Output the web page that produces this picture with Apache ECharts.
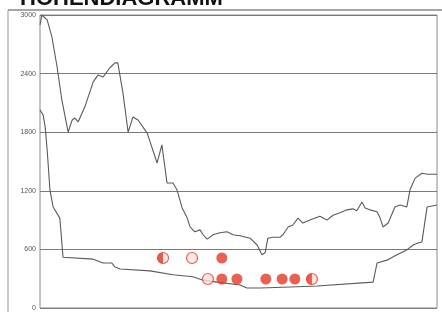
<!DOCTYPE html>
<html>
<head>
<meta charset="utf-8">
<script src="https://cdn.jsdelivr.net/npm/echarts@6/dist/echarts.min.js"></script>
<style>
  html, body { margin: 0; padding: 0; background: #fff; }
  #chart { width: 442px; height: 312px; }
</style>
</head>
<body>
<div id="chart"></div>
<script>
// Hoehenprofil: Strecke (0-100) und Hoehe (m)
var upperX = [0, 0.5, 1.8, 3.0, 4.3, 5.5, 7.1, 8.1, 8.8, 9.6, 11.3, 13.4, 14.6, 15.9, 17.6, 18.9, 19.6, 20.9, 22.2, 23.4, 24.7, 27.0, 29.5, 30.7, 32.0, 33.5, 34.5, 35.8, 37.0, 37.8, 39.0, 40.3, 41.1, 42.1, 43.6, 45.3, 47.1, 48.6, 50.4, 52.9, 54.7, 55.9, 56.7, 57.4, 58.7, 60.5, 61.2, 62.5, 63.7, 65.0, 66.2, 68.0, 70.5, 72.3, 73.8, 75.6, 77.3, 78.8, 79.8, 81.1, 81.9, 83.1, 84.9, 85.6, 86.4, 87.7, 89.4, 90.7, 92.4, 93.2, 94.5, 96.2, 97.7, 100];
var upperY = [2900, 3000, 2950, 2775, 2470, 2130, 1800, 1925, 1945, 1905, 2060, 2315, 2385, 2365, 2460, 2510, 2510, 2200, 1800, 1955, 1925, 1790, 1485, 1670, 1280, 1280, 1210, 1025, 930, 830, 780, 800, 750, 705, 750, 770, 780, 750, 740, 715, 645, 545, 565, 715, 725, 725, 750, 830, 850, 920, 870, 900, 940, 900, 950, 975, 1005, 1015, 995, 1085, 1025, 1005, 985, 930, 830, 870, 1035, 1055, 1035, 1210, 1330, 1380, 1370, 1370];

var lowerX = [0, 0.8, 1.3, 1.8, 2.5, 3.3, 5.0, 5.8, 6.3, 13.4, 15.9, 18.1, 18.9, 20.2, 27.7, 33.5, 38.5, 41.1, 44.6, 50.4, 52.1, 55.4, 63.0, 69.8, 83.9, 84.9, 87.4, 89.9, 92.4, 94.0, 95.2, 96.2, 97.5, 100];
var lowerY = [2030, 1975, 1855, 1620, 1210, 1035, 920, 520, 500, 500, 460, 460, 420, 400, 380, 340, 320, 285, 265, 235, 205, 205, 215, 225, 265, 460, 490, 545, 595, 645, 665, 675, 1035, 1055];

// Markierungen
var filledPts = [[45.8, 512], [45.8, 297], [49.6, 297], [56.9, 297], [61.0, 297], [64.2, 297]];
var hollowPts = [[38.3, 512], [42.3, 297], [31.0, 512], [68.5, 297]];
var halfPts = [[31.0, 512], [68.5, 297]];

var yTicks = [0, 600, 1200, 1800, 2400, 3000];

function pairs(xs, ys) {
    var out = [];
    for (var i = 0; i < xs.length; i++) out.push([xs[i], ys[i]]);
    return out;
}

var red = '#e23a28';
var dom = document.getElementById('chart');
var myChart = echarts.init(dom, null, { renderer: 'canvas' });

var option = {
    backgroundColor: '#fff',
    animation: false,
    grid: {
        left: 40, right: 5, top: 15, bottom: 4,
        show: true, borderColor: '#8a8a8a', borderWidth: 1
    },
    graphic: [
        {
            type: 'text', left: 20, top: -12, z: 10,
            style: {
                text: 'HÖHENDIAGRAMM',
                font: 'bold 22px "Liberation Sans", Arial, sans-serif',
                fill: '#111'
            }
        },
        {
            type: 'line', z: 10,
            shape: { x1: 8, y1: 10, x2: 442, y2: 10 },
            style: { stroke: '#888', lineWidth: 1.5 }
        },
        {
            type: 'line', z: 10,
            shape: { x1: 8, y1: 10, x2: 8, y2: 312 },
            style: { stroke: '#999', lineWidth: 1 }
        }
    ],
    xAxis: {
        type: 'value', min: 0, max: 100,
        axisLine: { show: false }, axisTick: { show: false },
        axisLabel: { show: false }, splitLine: { show: false }
    },
    yAxis: {
        type: 'value', min: yTicks[0], max: yTicks[yTicks.length - 1], interval: 600,
        axisLine: { show: false }, axisTick: { show: false },
        axisLabel: {
            fontSize: 7, color: '#555', margin: 4,
            fontFamily: '"Liberation Sans", Arial, sans-serif',
            formatter: function (v) { return String(v); }
        },
        splitLine: { lineStyle: { color: '#7a7a7a', width: 1 } }
    },
    series: [
        {
            type: 'line', data: pairs(upperX, upperY), symbol: 'none',
            lineStyle: { color: '#5a5a5a', width: 1.1 }
        },
        {
            type: 'line', data: pairs(lowerX, lowerY), symbol: 'none',
            lineStyle: { color: '#5a5a5a', width: 1.1 }
        },
        {
            type: 'scatter', data: hollowPts, symbol: 'circle', symbolSize: 11, z: 3,
            itemStyle: { color: '#fbe3df', borderColor: red, borderWidth: 1.2 }
        },
        {
            type: 'scatter', data: halfPts, symbol: 'path://M10,0 A10,10 0 0 0 10,20 Z',
            symbolSize: [5.5, 11], symbolOffset: [-2.75, 0], z: 4,
            itemStyle: { color: red }
        },
        {
            type: 'scatter', data: filledPts, symbol: 'circle', symbolSize: 11, z: 4,
            itemStyle: { color: red }
        }
    ]
};

myChart.setOption(option);
window.addEventListener('resize', myChart.resize);
</script>
</body>
</html>
